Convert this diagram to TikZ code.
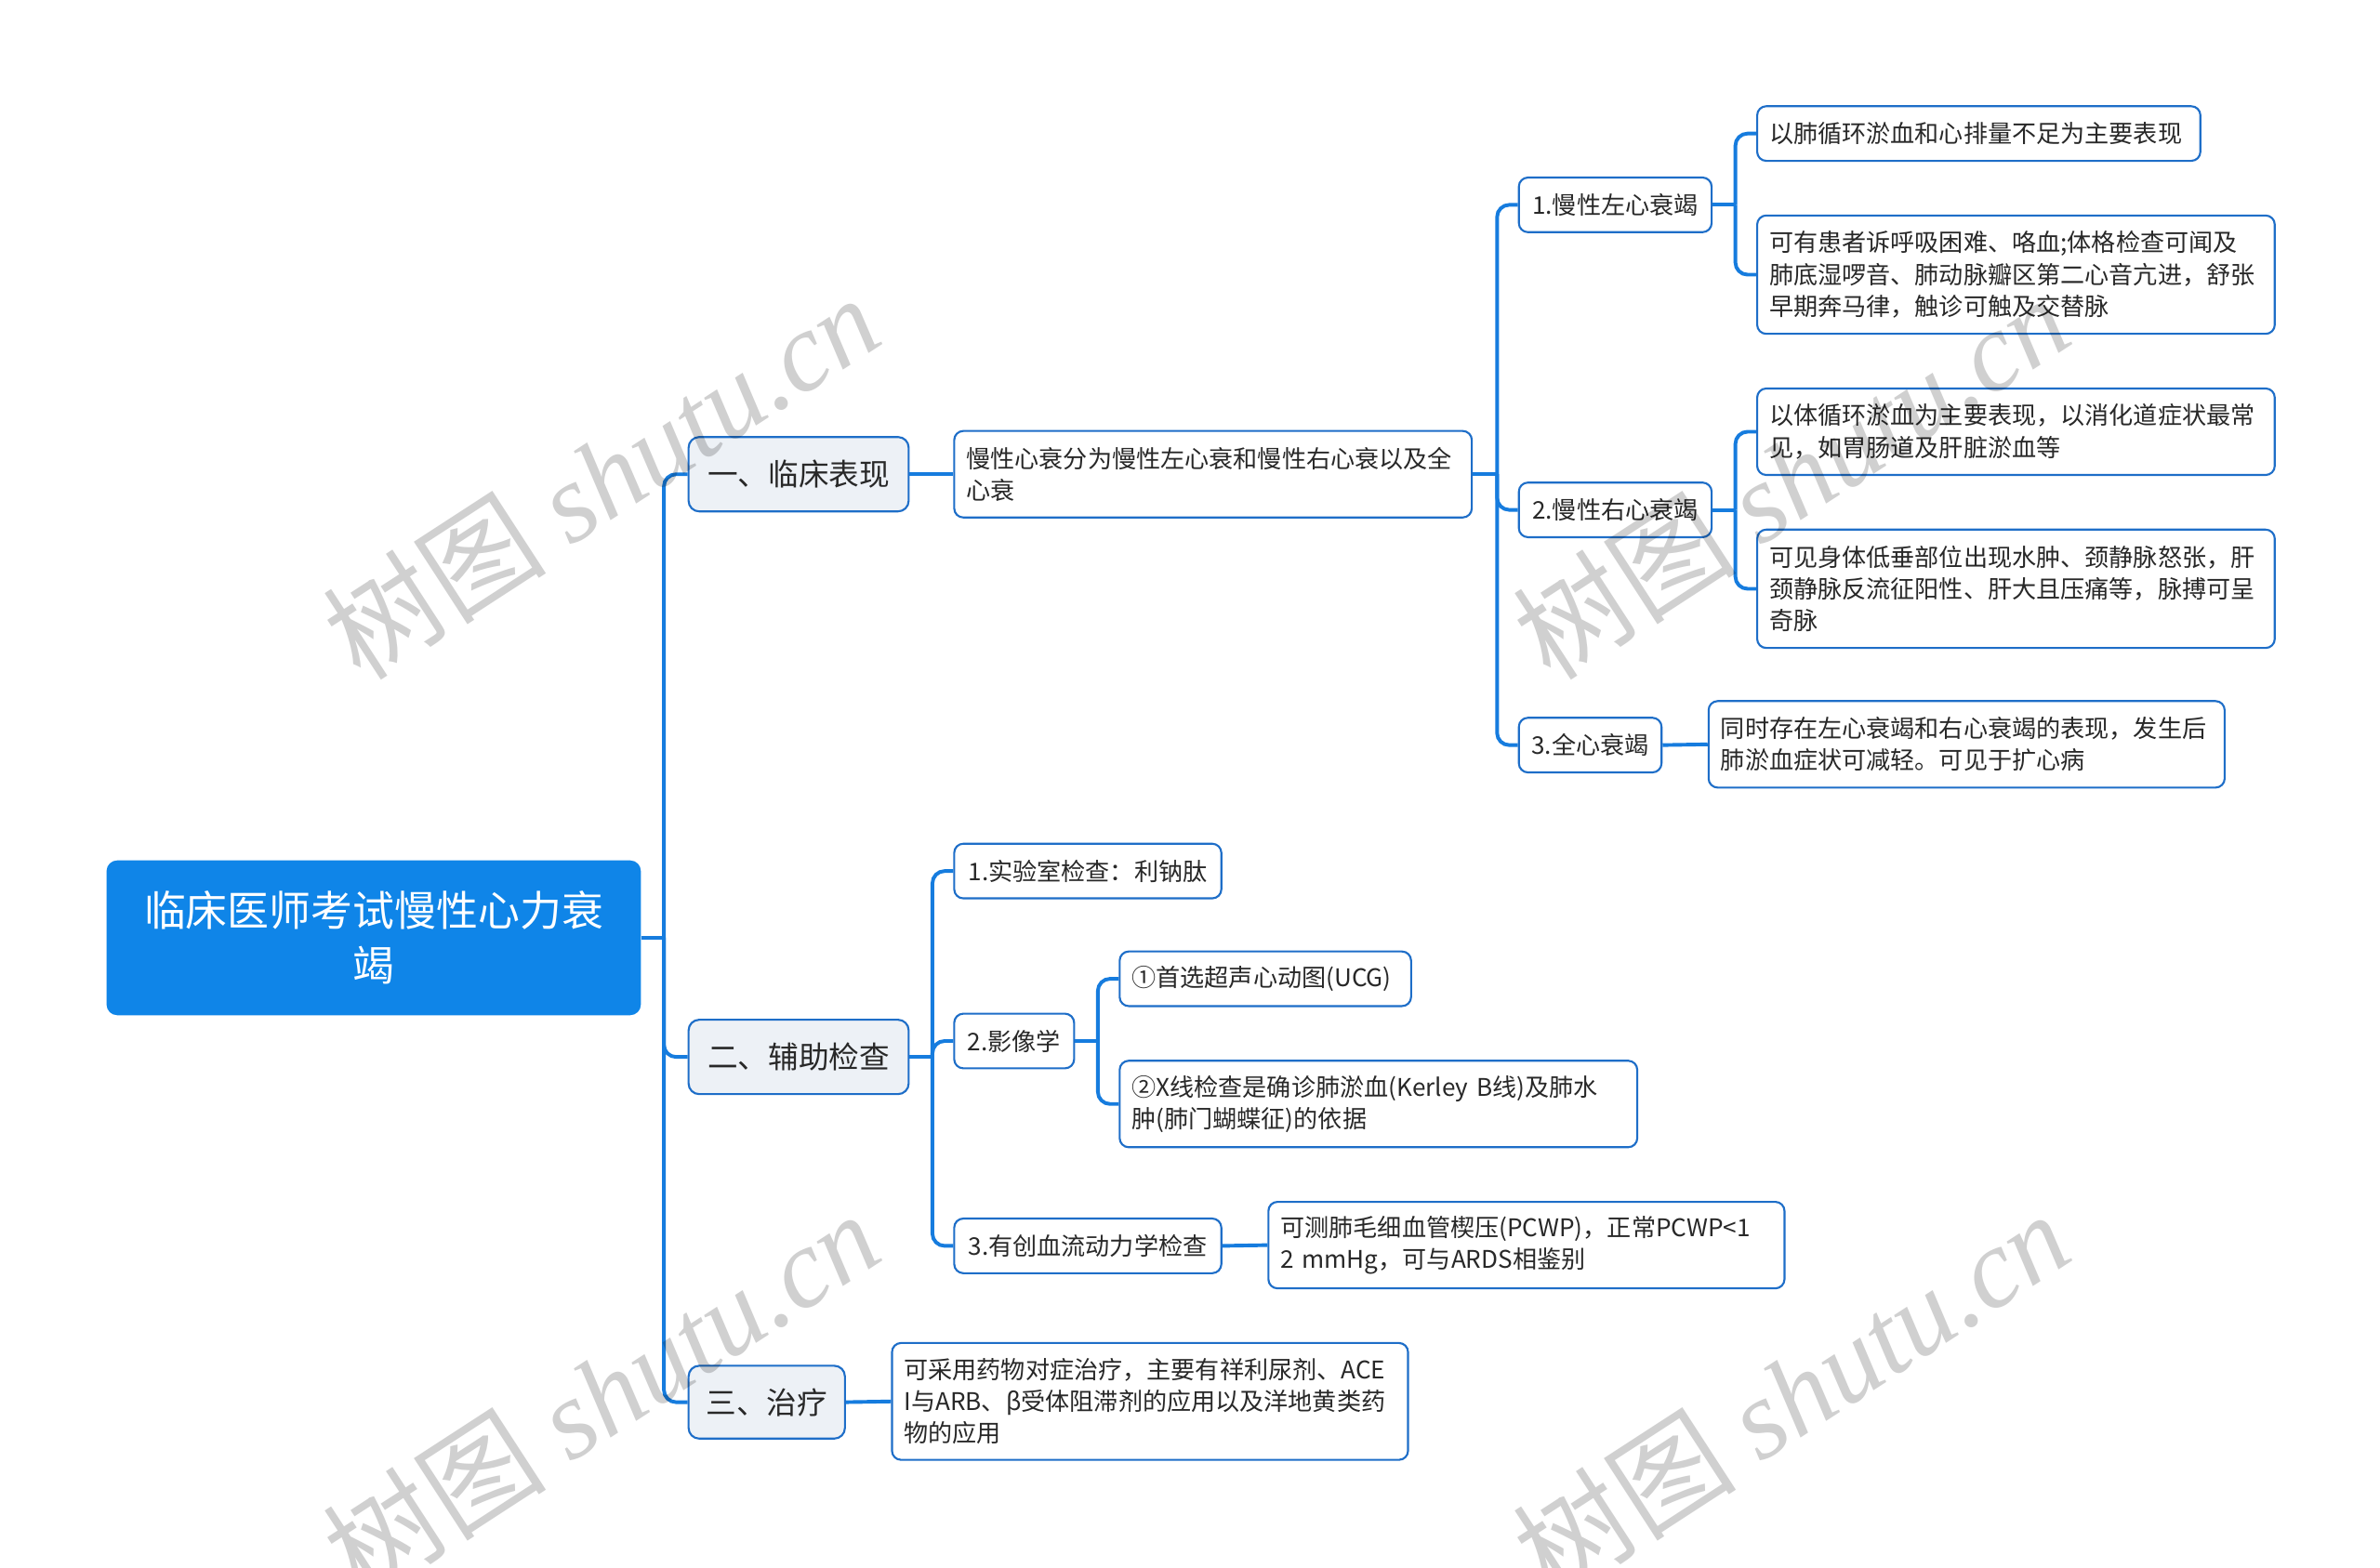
\documentclass[tikz,border=0pt]{standalone}
\usepackage{fontspec}
\setmainfont{Noto Sans CJK SC}
\newfontfamily\wmlatin{Liberation Serif}
\definecolor{lineblue}{RGB}{22,124,222}
\definecolor{bordblue}{RGB}{30,110,200}
\definecolor{rootblue}{RGB}{15,133,232}
\definecolor{lvlfill}{RGB}{237,241,246}
\definecolor{txt}{RGB}{40,40,40}
\definecolor{wmgray}{RGB}{208,208,208}
\tikzset{
 conn/.style={draw=lineblue, line width=2.4pt, rounded corners=8pt},
 leaf/.style={draw=bordblue, line width=1.3pt, rounded corners=6pt, fill=white, anchor=west, inner xsep=8pt, inner ysep=0pt, align=left, text=txt, font=\fontsize{16}{21}\selectfont},
 sub/.style={leaf, align=center},
 lvl/.style={draw=bordblue, line width=1.3pt, rounded corners=7pt, fill=lvlfill, anchor=west, inner sep=0pt, align=center, text=txt, font=\fontsize{20}{24}\selectfont},
 rootbox/.style={fill=rootblue, rounded corners=7pt, anchor=west, inner sep=0pt, align=center, text=white, font=\fontsize{27.5}{36}\selectfont},
 wm/.style={text=wmgray, blend mode=multiply, rotate=33, inner sep=0pt, font=\fontsize{74}{78}\selectfont}
}
\begin{document}
\begin{tikzpicture}[x=1pt,y=-1pt]
\useasboundingbox[fill=white] (0,0) rectangle (1568,1033);

% root and level 1
\node[rootbox, minimum width=352pt, minimum height=102pt] (root) at (70,618) {临床医师考试慢性心力衰\\竭};
\node[lvl, minimum width=145pt, minimum height=49pt] (L1a) at (453,312.5) {一、临床表现};
\node[lvl, minimum width=145pt, minimum height=49pt] (L1b) at (453,696.5) {二、辅助检查};
\node[lvl, minimum width=103pt, minimum height=48pt] (L1c) at (453,924) {三、治疗};

% branch 1
\node[leaf, text width=325pt, minimum height=57pt] (A) at (628,312.5) {慢性心衰分为慢性左心衰和慢性右心衰以及全\\心衰};
\node[sub, minimum width=127pt, minimum height=36pt] (A1) at (1000,135) {1.慢性左心衰竭};
\node[sub, minimum width=127pt, minimum height=36pt] (A2) at (1000,336) {2.慢性右心衰竭};
\node[sub, minimum width=94pt, minimum height=36pt] (A3) at (1000,491) {3.全心衰竭};
\node[leaf, text width=276pt, minimum height=36pt] (A1a) at (1157,88) {以肺循环淤血和心排量不足为主要表现};
\node[leaf, text width=325pt, minimum height=78pt] (A1b) at (1157,181) {可有患者诉呼吸困难、咯血;体格检查可闻及\\肺底湿啰音、肺动脉瓣区第二心音亢进，舒张\\早期奔马律，触诊可触及交替脉};
\node[leaf, text width=325pt, minimum height=57pt] (A2a) at (1157,284.5) {以体循环淤血为主要表现，以消化道症状最常\\见，如胃肠道及肝脏淤血等};
\node[leaf, text width=325pt, minimum height=78pt] (A2b) at (1157,388) {可见身体低垂部位出现水肿、颈静脉怒张，肝\\颈静脉反流征阳性、肝大且压痛等，脉搏可呈\\奇脉};
\node[leaf, text width=324pt, minimum height=57pt] (A3a) at (1125,490.5) {同时存在左心衰竭和右心衰竭的表现，发生后\\肺淤血症状可减轻。可见于扩心病};

% branch 2
\node[sub, minimum width=176pt, minimum height=36pt] (B1) at (628,574) {1.实验室检查：利钠肽};
\node[sub, minimum width=79pt, minimum height=36pt] (B2) at (628,686) {2.影像学};
\node[sub, minimum width=176pt, minimum height=36pt] (B3) at (628,821) {3.有创血流动力学检查};
\node[leaf, text width=176pt, minimum height=36pt] (B2a) at (737,645) {①首选超声心动图(UCG)};
\node[leaf, text width=325pt, minimum height=57pt] (B2b) at (737,727.5) {②X线检查是确诊肺淤血(Kerley~B线)及肺水\\肿(肺门蝴蝶征)的依据};
\node[leaf, text width=324pt, minimum height=57pt] (B3a) at (835,820.5) {可测肺毛细血管楔压(PCWP)，正常PCWP<1\\2 mmHg，可与ARDS相鉴别};

% branch 3
\node[leaf, text width=324pt, minimum height=77pt] (C1) at (587,923.5) {可采用药物对症治疗，主要有祥利尿剂、ACE\\I与ARB、β受体阻滞剂的应用以及洋地黄类药\\物的应用};

% connectors
\coordinate (r0) at ([xshift=15pt]root.east);
\draw[conn] (root.east) -- (r0);
\draw[conn] (r0) |- (L1a.west);
\draw[conn] (r0) |- (L1b.west);
\draw[conn] (r0) |- (L1c.west);

\draw[conn] (L1a.east) -- (A.west);
\coordinate (a0) at ([xshift=16pt]A.east);
\draw[conn] (A.east) -- (a0);
\draw[conn] (a0) |- (A1.west);
\draw[conn] (a0) |- (A2.west);
\draw[conn] (a0) |- (A3.west);

\coordinate (a1) at ([xshift=15pt]A1.east);
\draw[conn] (A1.east) -- (a1);
\draw[conn] (a1) |- (A1a.west);
\draw[conn] (a1) |- (A1b.west);

\coordinate (a2) at ([xshift=15pt]A2.east);
\draw[conn] (A2.east) -- (a2);
\draw[conn] (a2) |- (A2a.west);
\draw[conn] (a2) |- (A2b.west);

\draw[conn] (A3.east) -- (A3a.west);

\coordinate (b0) at ([xshift=15pt]L1b.east);
\draw[conn] (L1b.east) -- (b0);
\draw[conn] (b0) |- (B1.west);
\draw[conn] (b0) |- (B2.west);
\draw[conn] (b0) |- (B3.west);

\coordinate (b2) at ([xshift=15pt]B2.east);
\draw[conn] (B2.east) -- (b2);
\draw[conn] (b2) |- (B2a.west);
\draw[conn] (b2) |- (B2b.west);

\draw[conn] (B3.east) -- (B3a.west);
\draw[conn] (L1c.east) -- (C1.west);

% watermarks
\node[wm] (wm1) at (396,314) {树图 {\wmlatin\itshape shutu.cn}};
\node[wm] (wm2) at (1180,314) {树图 {\wmlatin\itshape shutu.cn}};
\node[wm] (wm3) at (396,918) {树图 {\wmlatin\itshape shutu.cn}};
\node[wm] (wm4) at (1180,918) {树图 {\wmlatin\itshape shutu.cn}};
\end{tikzpicture}
\end{document}
